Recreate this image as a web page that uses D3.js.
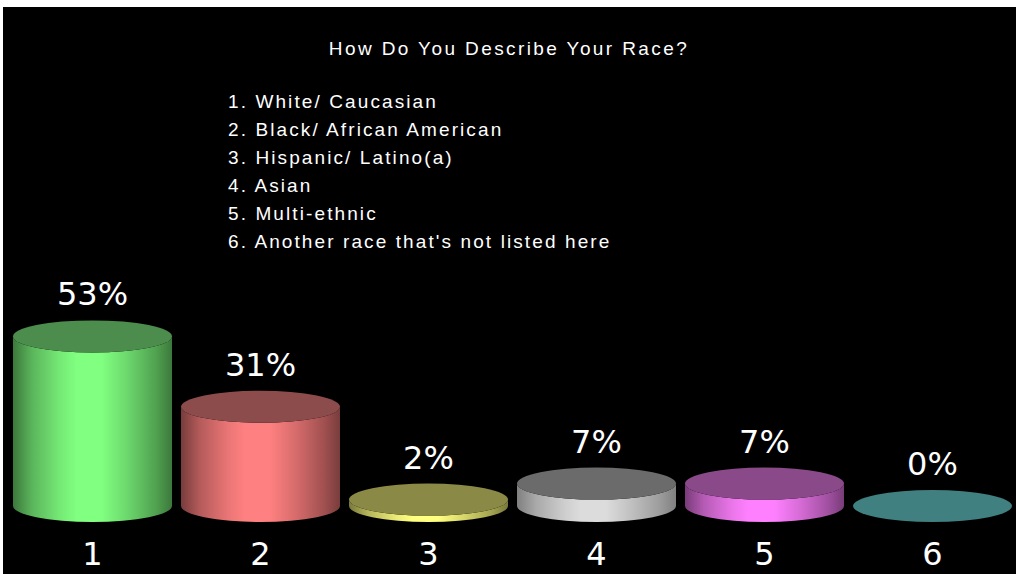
<!DOCTYPE html>
<html>
<head>
<meta charset="utf-8">
<script src="https://cdn.jsdelivr.net/npm/d3@7"></script>
<style>
  html, body { margin: 0; padding: 0; background: #ffffff; }
  svg { display: block; }
</style>
</head>
<body>
<svg id="chart" width="1016" height="574"></svg>
<script>
// ---- data ----
const categories = ["1", "2", "3", "4", "5", "6"];
const values = [53, 31, 2, 7, 7, 0];
const valueLabels = ["53%", "31%", "2%", "7%", "7%", "0%"];
const title = "How Do You Describe Your Race?";
const legendItems = [
  "1. White/ Caucasian",
  "2. Black/ African American",
  "3. Hispanic/ Latino(a)",
  "4. Asian",
  "5. Multi-ethnic",
  "6. Another race that's not listed here"
];
const sideBright = ["#80ff80", "#ff8080", "#ffff80", "#dcdcdc", "#ff80ff", "#80ffff"];
const sideDark   = ["#3c783c", "#783c3c", "#78783c", "#808080", "#783c78", "#3c7878"];
const topColors  = ["#4c8c4c", "#8c4c4c", "#8a8a46", "#6b6b6b", "#8a4a8a", "#408080"];

// ---- layout ----
const W = 1016, H = 574;
const svg = d3.select("#chart");

// white frame + black panel
svg.append("rect").attr("x", 0).attr("y", 0).attr("width", W).attr("height", H).attr("fill", "#ffffff");
svg.append("rect").attr("x", 3).attr("y", 7).attr("width", W - 3).attr("height", H - 7).attr("fill", "#000000");

const x = d3.scaleBand()
  .domain(categories)
  .range([8.5, 1016.5])
  .paddingInner(9 / 168)
  .paddingOuter(4.5 / 168);

const baseY = 506;
const y = d3.scaleLinear().domain([0, 100]).range([baseY, baseY - 320]);
const ry = 16;

// gradients
const defs = svg.append("defs");
categories.forEach((c, i) => {
  const g = defs.append("linearGradient")
    .attr("id", "grad" + i)
    .attr("x1", "0%").attr("x2", "100%").attr("y1", "0%").attr("y2", "0%");
  const dark = sideDark[i], bright = sideBright[i];
  const mid = d3.interpolateRgb(dark, bright);
  [[0, dark], [0.12, mid(0.45)], [0.3, mid(0.85)], [0.4, bright], [0.56, bright], [0.72, mid(0.7)], [0.9, mid(0.3)], [1, dark]]
    .forEach(([o, col]) => g.append("stop").attr("offset", o).attr("stop-color", col));
});

const bars = svg.append("g");
categories.forEach((c, i) => {
  const x0 = x(c), x1 = x(c) + x.bandwidth();
  const rx = x.bandwidth() / 2;
  const cx = x0 + rx;
  const yTop = y(values[i]);
  const yBot = y(0);
  if (yBot - yTop > 0.5) {
    const p = d3.path();
    p.moveTo(x0, yTop);
    p.lineTo(x0, yBot);
    const side = `M${x0},${yTop} L${x0},${yBot} A${rx},${ry} 0 0 0 ${x1},${yBot} L${x1},${yTop} A${rx},${ry} 0 0 1 ${x0},${yTop} Z`;
    bars.append("path").attr("d", side).attr("fill", `url(#grad${i})`);
  }
  bars.append("ellipse")
    .attr("cx", cx).attr("cy", yTop)
    .attr("rx", rx).attr("ry", ry)
    .attr("fill", topColors[i]);

  // value label
  svg.append("text")
    .attr("x", cx)
    .attr("y", yTop - ry - 15)
    .attr("text-anchor", "middle")
    .attr("font-family", "DejaVu Sans, Verdana, sans-serif")
    .attr("font-size", 32)
    .attr("fill", "#ffffff")
    .text(valueLabels[i]);

  // category label
  svg.append("text")
    .attr("x", cx)
    .attr("y", 565)
    .attr("text-anchor", "middle")
    .attr("font-family", "DejaVu Sans, Verdana, sans-serif")
    .attr("font-size", 32)
    .attr("fill", "#ffffff")
    .text(c);
});

// title
svg.append("text")
  .attr("x", 509)
  .attr("y", 55)
  .attr("text-anchor", "middle")
  .attr("font-family", "Liberation Sans, Arial, sans-serif")
  .attr("font-size", 19)
  .attr("letter-spacing", 2.4)
  .attr("fill", "#ffffff")
  .text(title);

// legend
svg.append("g").selectAll("text")
  .data(legendItems)
  .join("text")
  .attr("x", 228)
  .attr("y", (d, i) => 108 + i * 28)
  .attr("font-family", "Liberation Sans, Arial, sans-serif")
  .attr("font-size", 19)
  .attr("letter-spacing", 2.1)
  .attr("fill", "#ffffff")
  .text(d => d);
</script>
</body>
</html>
